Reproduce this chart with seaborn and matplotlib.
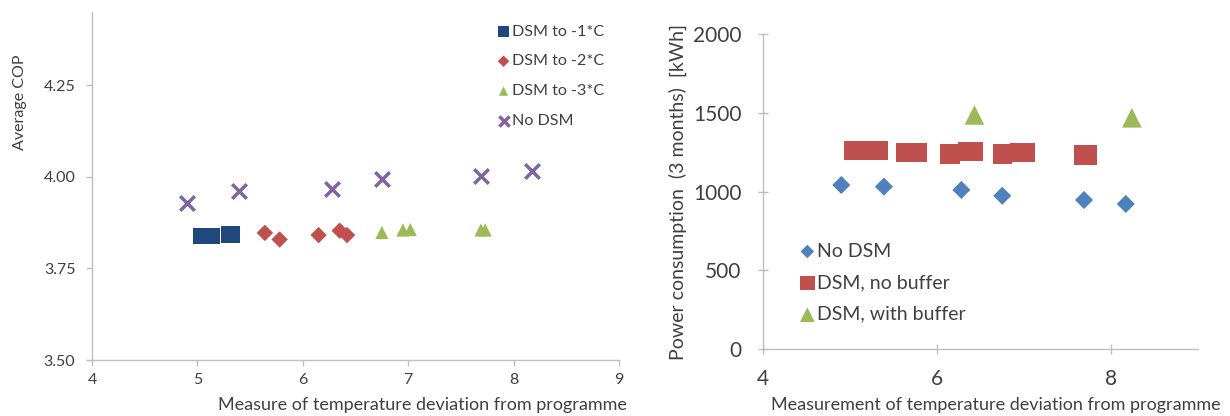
import matplotlib
matplotlib.use("Agg")
import matplotlib.pyplot as plt
import seaborn as sns
import numpy as np

# ---------------- data: left panel (Average COP) ----------------
dsm1_x = [5.04, 5.14, 5.30, 5.33]
dsm1_y = [3.838, 3.838, 3.843, 3.843]
dsm2_x = [5.64, 5.78, 6.15, 6.35, 6.42]
dsm2_y = [3.847, 3.829, 3.841, 3.853, 3.841]
dsm3_x = [6.75, 6.95, 7.02, 7.69, 7.73]
dsm3_y = [3.848, 3.855, 3.856, 3.855, 3.855]
nodsm_x = [4.90, 5.39, 6.28, 6.75, 7.69, 8.17]
nodsm_y = [3.929, 3.961, 3.967, 3.993, 4.003, 4.015]

# ---------------- data: right panel (power consumption) ----------------
pc_nodsm_x = [4.90, 5.39, 6.28, 6.75, 7.69, 8.17]
pc_nodsm_y = [1041, 1031, 1010, 973, 946, 921]
pc_nobuf_x = [5.04, 5.14, 5.30, 5.33, 5.64, 5.78, 6.15, 6.35, 6.42, 6.75, 6.95, 7.02, 7.69, 7.73]
pc_nobuf_y = [1263, 1263, 1263, 1263, 1249, 1249, 1238, 1253, 1253, 1238, 1245, 1245, 1232, 1232]
pc_buf_x = [6.43, 8.24]
pc_buf_y = [1486, 1468]

left_labels = ["DSM to -1*C", "DSM to -2*C", "DSM to -3*C", "No DSM"]
right_labels = ["No DSM", "DSM, no buffer", "DSM, with buffer"]
left_yticks = [3.50, 3.75, 4.00, 4.25]
left_xticks = [4, 5, 6, 7, 8, 9]
right_xticks = [4, 6, 8]
right_yticks = [0, 500, 1000, 1500, 2000]

sns.set_theme(style="white")
plt.rcParams['font.family'] = ['Lato', 'DejaVu Sans']

W, H = 1230, 416
fig = plt.figure(figsize=(W / 100, H / 100), dpi=100)
fig.patch.set_facecolor("white")

grey = "#BFBFBF"
txt = "#404040"

def style_axes(ax, fs, direction, length, xpad, ypad):
    for s in ["top", "right"]:
        ax.spines[s].set_visible(False)
    for s in ["left", "bottom"]:
        ax.spines[s].set_color(grey)
        ax.spines[s].set_linewidth(1.0)
    ax.tick_params(axis="both", which="major", direction=direction, length=length,
                   width=1.0, color=grey, labelsize=fs, labelcolor=txt,
                   bottom=True, left=True)
    ax.tick_params(axis="x", pad=xpad)
    ax.tick_params(axis="y", pad=ypad)

# ---------------- left panel ----------------
axL = fig.add_axes([92 / W, (H - 360) / H, (619 - 92) / W, (360 - 12) / H])
sns.scatterplot(x=dsm1_x, y=dsm1_y, ax=axL, marker="s", s=140, color="#1F497D",
                edgecolor="none", label=left_labels[0])
sns.scatterplot(x=dsm2_x, y=dsm2_y, ax=axL, marker="D", s=70, color="#C0504D",
                edgecolor="none", label=left_labels[1])
sns.scatterplot(x=dsm3_x, y=dsm3_y, ax=axL, marker="^", s=90, color="#9BBB59",
                edgecolor="none", label=left_labels[2])
sns.scatterplot(x=nodsm_x, y=nodsm_y, ax=axL, marker="x", s=110, color="#8064A2",
                linewidth=2.5, label=left_labels[3])
axL.set_xlim(4, 9)
axL.set_ylim(3.5, 4.45)
axL.set_xticks(left_xticks)
axL.set_yticks(left_yticks)
axL.set_yticklabels([f"{v:.2f}" for v in left_yticks])
style_axes(axL, 11.5, "out", 4, 5, 8)
axL.set_xlabel("")
axL.set_ylabel("")
fig.text(20 / W, 1 - 102 / H, "Average COP", rotation=90, ha="center", va="center",
         fontsize=11.5, color=txt)
fig.text(422 / W, 1 - 405 / H, "Measure of temperature deviation from programme",
         ha="center", va="center", fontsize=13, color=txt)
legL = axL.legend(loc="upper left", bbox_to_anchor=(485 / W, 1 - 13 / H),
                  bbox_transform=fig.transFigure, frameon=False, fontsize=11.6,
                  labelspacing=0.97, handletextpad=0.1, handlelength=0.9,
                  markerscale=0.7, borderpad=0.2)
for t in legL.get_texts():
    t.set_color(txt)

# ---------------- right panel ----------------
axR = fig.add_axes([763 / W, (H - 349) / H, (1198 - 763) / W, (349 - 34) / H])
sns.scatterplot(x=pc_nodsm_x, y=pc_nodsm_y, ax=axR, marker="D", s=85, color="#4F81BD",
                edgecolor="none", label=right_labels[0])
sns.scatterplot(x=pc_nobuf_x, y=pc_nobuf_y, ax=axR, marker="s", s=190, color="#C0504D",
                edgecolor="none", label=right_labels[1])
sns.scatterplot(x=pc_buf_x, y=pc_buf_y, ax=axR, marker="^", s=200, color="#9BBB59",
                edgecolor="none", label=right_labels[2])
axR.set_xlim(4, 9)
axR.set_ylim(0, 2000)
axR.set_xticks(right_xticks)
axR.set_yticks(right_yticks)
style_axes(axR, 15, "inout", 7, 11, 12)
axR.set_xlabel("")
axR.set_ylabel("")
fig.text(678 / W, 1 - 192 / H, "Power consumption  (3 months)  [kWh]", rotation=90,
         ha="center", va="center", fontsize=14, color=txt)
fig.text(996 / W, 1 - 405 / H, "Measurement of temperature deviation from programme",
         ha="center", va="center", fontsize=13, color=txt)
legR = axR.legend(loc="upper left", bbox_to_anchor=(785 / W, 1 - 229 / H),
                  bbox_transform=fig.transFigure, frameon=False, fontsize=14,
                  labelspacing=0.75, handletextpad=0.05, handlelength=0.9,
                  markerscale=0.75, borderpad=0.2)
for t in legR.get_texts():
    t.set_color(txt)

fig.savefig("out.png", dpi=100, facecolor="white")
